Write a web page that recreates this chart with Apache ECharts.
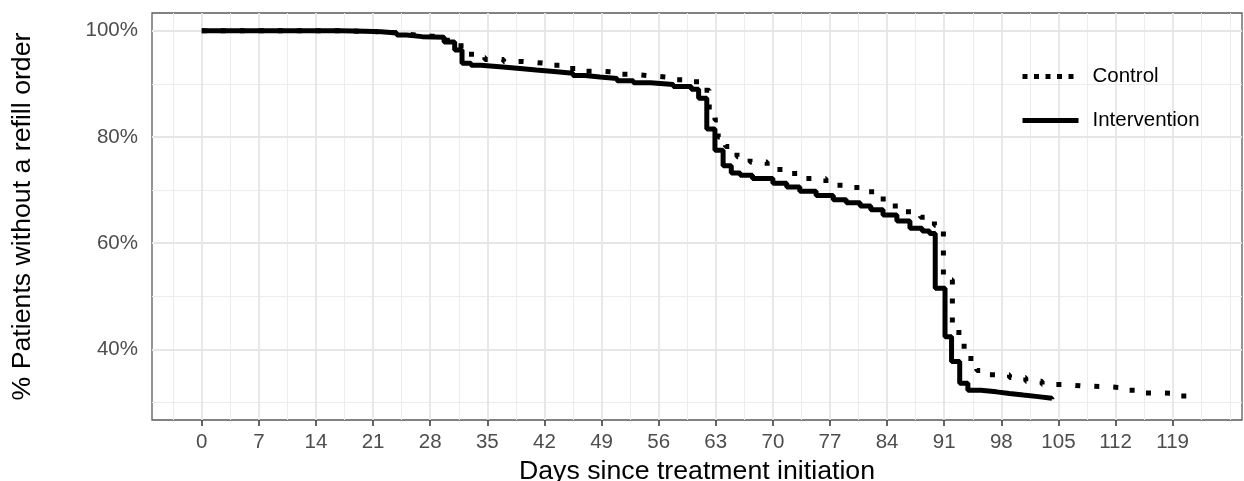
<!DOCTYPE html>
<html><head><meta charset="utf-8">
<script src="https://cdn.jsdelivr.net/npm/echarts@6/dist/echarts.min.js"></script>
<style>html,body{margin:0;padding:0;background:#fff}#c{width:1244px;height:481px}</style>
</head><body><div id="c"></div>
<script>
// ---- data (day, % without refill) ----
const interventionData = [
  [0,100],[17,99.9],[20,99.8],[22,99.6],[23.9,99.2],[25.1,98.9],[27,98.8],[29.7,97.9],
  [31,96.4],[31.9,93.9],[33,93.5],[34.2,93.2],[36.9,92.9],[39,92.6],[41,92.3],[43.5,92.0],
  [45.5,91.6],[47,91.3],[48.8,91.0],[50.9,90.6],[52.9,90.2],[55,89.9],[57.8,89.5],[60,89.0],
  [60.9,87.3],[61.9,81.5],[62.9,77.5],[63.9,74.6],[64.9,73.2],[66,72.8],[67.5,72.2],[70,71.3],
  [71.7,70.6],[73.3,69.8],[75.3,69.0],[77.4,68.2],[79,67.6],[80.7,67.0],[82,66.3],[83.5,65.3],
  [85.2,64.2],[86.8,62.8],[88.3,62.3],[89.2,61.8],[89.9,51.5],[91.1,42.4],[91.9,37.7],[92.9,33.6],
  [93.9,32.3],[95.5,32.0],[97.4,31.7],[99,31.4],[100.7,31.1],[102.5,30.8],[104.2,30.6]
];
const controlData = [
  [0,100],[17,99.9],[20,99.8],[22,99.6],[24,99.3],[25.5,99.0],[28,98.9],[29.8,98.2],
  [31,97.2],[32.3,95.6],[33.6,95.0],[34.7,94.6],[37,94.2],[39.4,93.9],[41.9,93.5],[43.9,92.9],
  [46,92.4],[48.4,92.2],[50.9,91.8],[52.9,91.5],[55.3,91.2],[57.8,90.8],[60,90.4],[61.3,88.8],
  [62.2,84.5],[62.9,83.2],[63.3,80.0],[64.2,78.2],[65.6,76.3],[67.2,75.3],[69.3,73.9],[71.3,73.1],
  [73.8,72.2],[76.5,70.9],[78.8,70.5],[81.2,69.7],[82.8,68.3],[84.6,67.0],[86.3,65.9],[88.1,64.9],
  [89.8,63.4],[90.9,53.1],[92.0,44.5],[92.8,40.6],[93.9,38.3],[95.0,36.0],[96.5,35.2],[99,34.7],
  [101,34.0],[103,33.4],[105.5,33.1],[108,33.0],[110.5,32.8],[112.8,32.3],[114.8,31.8],[117.5,31.7],
  [119.6,31.2],[121.5,31.0]
];
const xTickValues = [0,7,14,21,28,35,42,49,56,63,70,77,84,91,98,105,112,119];
const xMinorGrid = [-3.5,3.5,10.5,17.5,24.5,31.5,38.5,45.5,52.5,59.5,66.5,73.5,80.5,87.5,94.5,101.5,108.5,115.5,122.5,126];
const yTickValues = [40,60,80,100];
const yMinorGrid = [30,50,70,90];
const seriesNames = ['Control','Intervention'];
const xTitle = 'Days since treatment initiation';
const yTitle = '% Patients without a refill order';

const FONT = '"Liberation Sans", Arial, sans-serif';
const chart = echarts.init(document.getElementById('c'));

const gridLines = [];
xMinorGrid.forEach(v => gridLines.push({xAxis: v, lineStyle: {color: '#ececec', width: 1, type: 'solid'}}));
yMinorGrid.forEach(v => gridLines.push({yAxis: v, lineStyle: {color: '#ececec', width: 1, type: 'solid'}}));
xTickValues.forEach(v => gridLines.push({xAxis: v, lineStyle: {color: '#e6e6e6', width: 1.8, type: 'solid'}}));
yTickValues.forEach(v => gridLines.push({yAxis: v, lineStyle: {color: '#e6e6e6', width: 1.8, type: 'solid'}}));

chart.setOption({
  animation: false,
  backgroundColor: '#fff',
  grid: {left: 152, right: 2, top: 13, bottom: 61, show: true, borderColor: '#5a5a5a', borderWidth: 1.3,
         containLabel: false, outerBoundsMode: 'none'},
  xAxis: {
    type: 'value', min: -6.1, max: 127.5,
    name: xTitle, nameLocation: 'middle', nameGap: 34,
    nameTextStyle: {fontFamily: FONT, fontSize: 26.7, color: '#000'},
    axisLine: {show: false},
    axisTick: {show: true, customValues: xTickValues, length: 6, lineStyle: {color: '#333', width: 1.5}},
    axisLabel: {customValues: xTickValues, margin: 12, fontFamily: FONT, fontSize: 20.5, color: '#4d4d4d'},
    splitLine: {show: false}
  },
  yAxis: {
    type: 'value', min: 26.7, max: 103.35,
    name: yTitle, nameLocation: 'middle', nameGap: 116, nameRotate: 90,
    nameTextStyle: {fontFamily: FONT, fontSize: 26.7, color: '#000'},
    axisLine: {show: false},
    axisTick: {show: true, customValues: yTickValues, length: 6, lineStyle: {color: '#333', width: 1.5}},
    axisLabel: {customValues: yTickValues, margin: 14, fontFamily: FONT, fontSize: 20.5, color: '#4d4d4d',
                formatter: v => v + '%'},
    splitLine: {show: false}
  },
  legend: {
    orient: 'vertical', left: 1020, top: 66, padding: 0, itemWidth: 56, itemHeight: 20, itemGap: 23,
    itemStyle: {opacity: 0},
    data: [{name: 'Control', lineStyle: {type: [5, 6.5], width: 5}}, {name: 'Intervention', lineStyle: {width: 5}}],
    textStyle: {fontFamily: FONT, fontSize: 20.5, color: '#000', padding: [0, 0, 0, 9]}
  },
  series: [
    {type: 'line', name: 'gridlines', data: [], silent: true, z: 1,
     markLine: {silent: true, z: 1, symbol: ['none', 'none'], label: {show: false}, animation: false, data: gridLines}},
    {type: 'line', name: seriesNames[0], step: 'end', data: controlData, symbol: 'none', showSymbol: false, z: 10,
     itemStyle: {color: '#000'},
     lineStyle: {color: '#000', width: 5, type: [5, 14], cap: 'butt'}},
    {type: 'line', name: seriesNames[1], step: 'end', data: interventionData, symbol: 'none', showSymbol: false, z: 11,
     itemStyle: {color: '#000'},
     lineStyle: {color: '#000', width: 5, cap: 'butt'}}
  ]
});
</script></body></html>
